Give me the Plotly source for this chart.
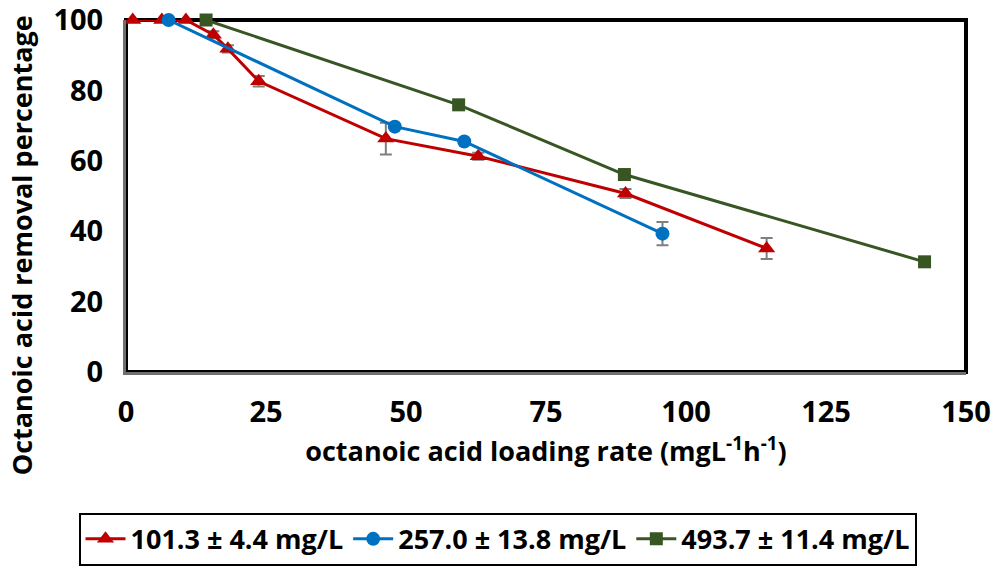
import plotly.graph_objects as go

# Octanoic acid removal vs loading rate, three influent concentrations
series_names = ["101.3 ± 4.4 mg/L", "257.0 ± 13.8 mg/L", "493.7 ± 11.4 mg/L"]

low_rate = [1.2, 6.4, 10.7, 15.6, 18.2, 23.7, 46.4, 62.9, 89.2, 114.4]
low_removal = [100, 100, 100, 95.8, 91.8, 82.6, 66.3, 61.3, 50.7, 35.1]
low_err = [0, 0, 0, 1.0, 1.0, 1.5, 4.5, 1.0, 1.3, 3.0]

mid_rate = [7.6, 48.0, 60.4, 95.8]
mid_removal = [100, 69.7, 65.5, 39.3]
mid_err = [0, 0, 0, 3.3]

high_rate = [14.3, 59.4, 89.0, 142.6]
high_removal = [100, 75.9, 56.1, 31.3]

x_ticks = [0, 25, 50, 75, 100, 125, 150]
y_ticks = [0, 20, 40, 60, 80, 100]

x_title = "octanoic acid loading rate (mgL<sup>-1</sup>h<sup>-1</sup>)"
y_title = "Octanoic acid removal percentage"

colors = ["#C00000", "#0070C0", "#375623"]
font_family = "Open Sans"
bold = dict(family=font_family, weight="bold", color="black")

fig = go.Figure()

fig.add_trace(go.Scatter(
    x=low_rate, y=low_removal, name=series_names[0], mode="lines+markers",
    line=dict(color=colors[0], width=3),
    marker=dict(symbol="triangle-up", size=15, color=colors[0]),
    error_y=dict(type="data", array=low_err, visible=True, color="#7F7F7F",
                 thickness=2, width=6),
    cliponaxis=False,
))
fig.add_trace(go.Scatter(
    x=mid_rate, y=mid_removal, name=series_names[1], mode="lines+markers",
    line=dict(color=colors[1], width=3),
    marker=dict(symbol="circle", size=14, color=colors[1]),
    error_y=dict(type="data", array=mid_err, visible=True, color="#7F7F7F",
                 thickness=2, width=6),
    cliponaxis=False,
))
fig.add_trace(go.Scatter(
    x=high_rate, y=high_removal, name=series_names[2], mode="lines+markers",
    line=dict(color=colors[2], width=3),
    marker=dict(symbol="square", size=13, color=colors[2]),
    cliponaxis=False,
))

# plot-area frame: heavy black outline, grey axis lines on left/bottom
fig.add_shape(type="rect", xref="paper", yref="paper", x0=0, y0=0, x1=1, y1=1,
              line=dict(color="black", width=4), layer="below")

# vertical axis title, set a little below the centre of the plot area
fig.add_annotation(
    text=y_title, textangle=-90, xref="paper", yref="paper",
    x=-0.125, y=0.36, xanchor="center", yanchor="middle", showarrow=False,
    font=dict(bold, size=27),
)

fig.update_layout(
    width=995, height=566,
    margin=dict(l=126, r=29, t=20, b=194, autoexpand=False),
    paper_bgcolor="white", plot_bgcolor="white",
    font=dict(family=font_family, color="black", size=24),
    showlegend=True,
    legend=dict(
        orientation="h", xref="container", x=0.5, xanchor="center",
        y=-0.40, yanchor="top",
        font=dict(bold, size=27),
        bordercolor="black", borderwidth=2, itemwidth=40,
        tracegroupgap=0,
    ),
)

fig.update_xaxes(
    range=[0, 150], tickvals=x_ticks, ticks="", showgrid=False, zeroline=False,
    showline=True, linecolor="#6F6F6F", linewidth=3, automargin=False,
    tickfont=dict(bold, size=29), ticklabeloverflow="allow",
    ticklabelstandoff=12,
    title=dict(text=x_title, font=dict(bold, size=27), standoff=10),
)
fig.update_yaxes(
    range=[0, 100], tickvals=y_ticks, ticks="", showgrid=False, zeroline=False,
    showline=True, linecolor="#6F6F6F", linewidth=3, automargin=False,
    tickfont=dict(bold, size=29), ticklabeloverflow="allow",
    ticklabelstandoff=14,
)

fig.write_html("out.html")
